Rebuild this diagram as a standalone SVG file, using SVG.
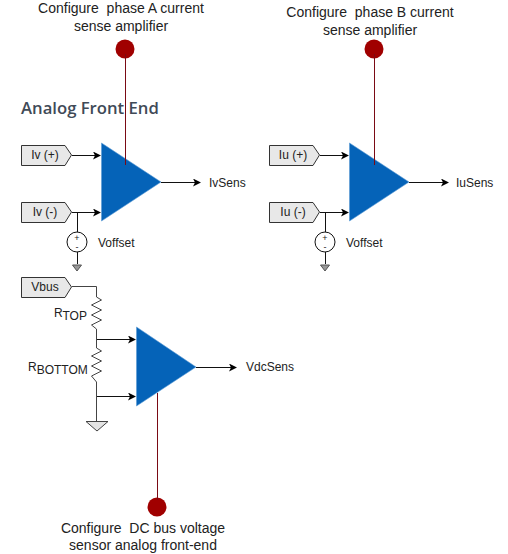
<svg xmlns="http://www.w3.org/2000/svg" width="508" height="554" viewBox="0 0 508 554">
<style>
text{font-family:"Liberation Sans",Arial,sans-serif;font-size:12px;fill:#222;white-space:pre}
.c{font-size:14px}
.m{text-anchor:middle}
.tag{fill:#e8e8e8;stroke:#333;stroke-width:1}
.amp{fill:#0563b8;stroke:#5b9bd5;stroke-width:.6}
.w{fill:none;stroke:#111;stroke-width:1}
.g{fill:none;stroke:#444;stroke-width:1}
.red{fill:none;stroke:#7a0a14;stroke-width:1}
.dot{fill:#a00000}
.src{fill:#fff;stroke:#111;stroke-width:1}
.gnd{fill:#999;stroke:#555;stroke-width:1}
.gnd2{fill:#e4e4e4;stroke:#444;stroke-width:1}
</style>
<defs>
<marker id="a" markerUnits="userSpaceOnUse" markerWidth="9" markerHeight="8" refX="7" refY="4" orient="auto"><path d="M0 0L8 4L0 8L2 4Z" fill="#000"/></marker>
</defs>
<g id="title"><text x="21" y="114" style="font-family:'Open Sans',sans-serif;font-size:16.700px;font-weight:600;fill:#3f4a57">Analog Front End</text></g>
<g id="cfgA"><circle class="dot" cx="125" cy="49" r="9.500"/><text class="m c" x="121" y="13">Configure  phase A current</text><text class="m c" x="121" y="31">sense amplifier</text></g>
<g id="cfgB"><circle class="dot" cx="374" cy="49" r="9.500"/><text class="m c" x="370" y="17">Configure  phase B current</text><text class="m c" x="370" y="35">sense amplifier</text></g>
<g id="cfgDC"><circle class="dot" cx="157" cy="507" r="9.500"/><text class="m c" x="143" y="533">Configure  DC bus voltage</text><text class="m c" x="143" y="550">sensor analog front-end</text></g>
<g id="ampA"><path class="amp" d="M101.500 143L161 182L101.500 221Z"/></g>
<g id="ampB"><path class="amp" d="M349.500 143L409 182L349.500 221Z"/></g>
<g id="ampC"><path class="amp" d="M136.500 327L196 367L136.500 406Z"/></g>
<g id="ivp"><path class="tag" d="M21.500 145.500H65L71.500 155L65 165.500H21.500Z"/><text class="m" x="45" y="159">Iv (+)</text></g>
<g id="ivm"><path class="tag" d="M21.500 202.500H65L71.500 212L65 222.500H21.500Z"/><text class="m" x="45" y="216">Iv (-)</text></g>
<g id="iup"><path class="tag" d="M269.500 145.500H313L319.500 155L313 165.500H269.500Z"/><text class="m" x="293" y="159">Iu (+)</text></g>
<g id="ium"><path class="tag" d="M269.500 202.500H313L319.500 212L313 222.500H269.500Z"/><text class="m" x="293" y="216">Iu (-)</text></g>
<g id="vbus"><path class="tag" d="M21.500 277.500H65L71.500 287L65 297.500H21.500Z"/><text class="m" x="45" y="291">Vbus</text></g>
<g id="srcA"><circle class="src" cx="77" cy="242" r="10"/><text class="m" x="77" y="241" style="font-size:9px">+</text><text class="m" x="77" y="250" style="font-size:9px">-</text><path class="gnd" d="M72.500 265H81.500L77 271Z"/><text x="98" y="247">Voffset</text></g>
<g id="srcB"><circle class="src" cx="325" cy="242" r="10"/><text class="m" x="325" y="241" style="font-size:9px">+</text><text class="m" x="325" y="250" style="font-size:9px">-</text><path class="gnd" d="M320.500 265H329.500L325 271Z"/><text x="346" y="247">Voffset</text></g>
<g id="gndC"><path class="gnd2" d="M86 421.500H108L97 431Z"/></g>
<g id="labels">
<text x="209" y="187">IvSens</text>
<text x="456" y="187">IuSens</text>
<text x="246" y="371">VdcSens</text>
<text x="54" y="317">R<tspan dy="3">TOP</tspan></text>
<text x="28" y="371">R<tspan dy="3">BOTTOM</tspan></text>
</g>
<g id="connectors">
<path class="red" d="M125.500 54V165"/>
<path class="red" d="M374.500 54V165"/>
<path class="red" d="M157.500 393V500"/>
<path class="w" marker-end="url(#a)" d="M72 155.500H100"/>
<path class="w" marker-end="url(#a)" d="M72 212.500H100"/>
<path class="w" marker-end="url(#a)" d="M161 182.500H200"/>
<path class="w" d="M77.500 212V232M77.500 252V264"/>
<path class="w" marker-end="url(#a)" d="M320 155.500H348"/>
<path class="w" marker-end="url(#a)" d="M320 212.500H348"/>
<path class="w" marker-end="url(#a)" d="M409 182.500H448"/>
<path class="w" d="M325.500 212V232M325.500 252V264"/>
<path class="w" marker-end="url(#a)" d="M196 367.500H236"/>
<path class="w" marker-end="url(#a)" d="M97 339.500H135"/>
<path class="w" marker-end="url(#a)" d="M97 396.500H135"/>
<path class="g" d="M72 286.500H96.500V297L101.500 300L91.500 305L101.500 310L91.500 315L101.500 320L91.500 325L96.500 329V348L101.500 351L91.500 356L101.500 361L91.500 366L101.500 371L91.500 376L96.500 382V421"/>
</g>
</svg>
